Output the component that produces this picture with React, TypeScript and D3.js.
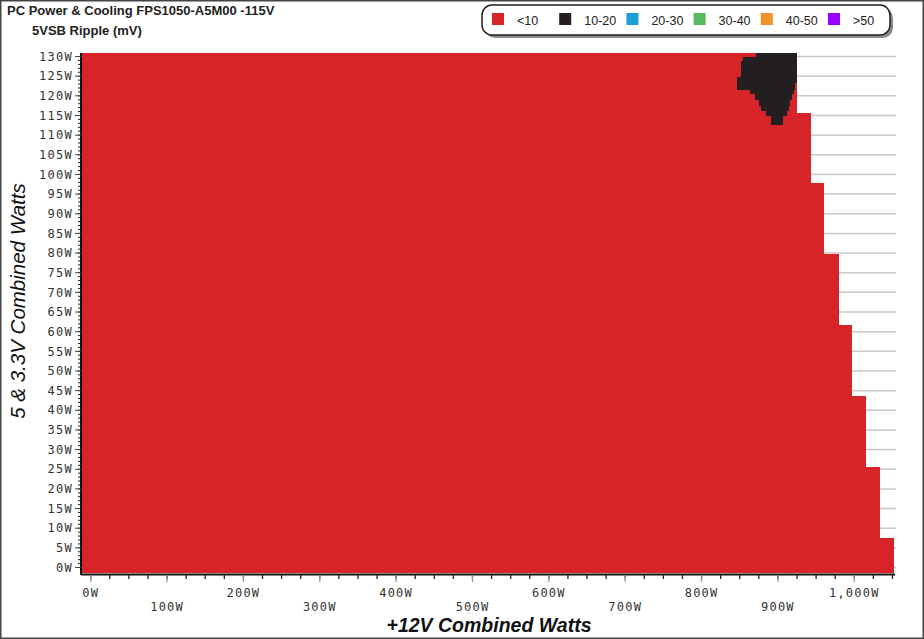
import * as d3 from 'd3';

// legend buckets (mV)
const rippleLabels = ['<10', '10-20', '20-30', '30-40', '40-50', '>50'];
const rippleColors = ['#d62428', '#231f20', '#1ba1d8', '#5cb85c', '#ef922b', '#9b00ff'];

// tested load envelope: 5V/3.3V band (W) and the max +12V load (W) reached in it
const bandLow5V = [-1.4, 7.5, 25.6, 43.7, 61.7, 79.8, 97.9, 115.6];
const bandHigh5V = [7.5, 25.6, 43.7, 61.7, 79.8, 97.9, 115.6, 130.9];
const bandMax12V = [1052, 1033.6, 1015.3, 997, 980.4, 960.4, 943.8, 924.5];

// area where 5VSB ripple was 10-20 mV, read row by row
const blobTop5V = [130.9, 129.9, 128.9, 124.8, 123.3, 121.5, 120.5, 119.0, 117.4, 116.2, 114.9];
const blobBottom5V = [129.9, 128.9, 124.8, 123.3, 121.5, 120.5, 119.0, 117.4, 116.2, 114.9, 112.6];
const blobLeft12V = [871.8, 854.7, 851.5, 847.0, 847.0, 863.9, 870.5, 875.7, 878.3, 884.9, 891.4];
const blobRight12V = [925.4, 925.4, 925.4, 925.4, 922.8, 921.5, 918.9, 916.3, 915.0, 912.4, 907.0];

const xMajorTicks = d3.range(0, 1001, 100);
const xMinorTicks = d3.range(0, 1051, 25);
const yMajorTicks = d3.range(0, 131, 5);
const yMinorTicks = d3.range(0, 131, 1);

const W = 924;
const H = 639;
const left = 82;
const right = 894;
const top = 53;
const bottom = 573;

const tickFont = "'DejaVu Sans Mono', monospace";
const sansFont = "'Liberation Sans', Arial, sans-serif";

export default function App() {
  const x = d3.scaleLinear().domain([-11.4, 1052]).range([left, right]);
  const y = d3.scaleLinear().domain([-1.4, 130.9]).range([bottom, top]);
  const fmt = d3.format(',');

  return (
    <div>
      <style>{`body{margin:0}`}</style>
      <svg width={W} height={H} style={{ display: 'block', background: '#fff' }}>
        <rect x={0.75} y={0.75} width={W - 1.5} height={H - 1.5} fill="#fff" stroke="#444" strokeWidth={1.5} />

        {/* titles */}
        <text x={7} y={15} fontFamily={sansFont} fontWeight="bold" fontSize={13} fill="#222">
          PC Power &amp; Cooling FPS1050-A5M00 -115V
        </text>
        <text x={32} y={35} fontFamily={sansFont} fontWeight="bold" fontSize={13} fill="#222">
          5VSB Ripple (mV)
        </text>

        {/* legend */}
        <rect x={485} y={8} width={408} height={30} rx={10} fill="#8a8a8a" />
        <rect x={482} y={5} width={408} height={30} rx={10} fill="#fff" stroke="#222" strokeWidth={1.5} />
        {rippleLabels.map((lab, i) => (
          <g key={lab} transform={`translate(${492 + i * 67.2},0)`}>
            <rect x={0} y={13} width={12} height={12} fill={rippleColors[i]} />
            <text x={25} y={25} fontFamily={sansFont} fontSize={12.5} fill="#222">{lab}</text>
          </g>
        ))}

        {/* horizontal grid */}
        {yMajorTicks.map(t => (
          <line key={'g' + t} x1={left} x2={right + 2} y1={y(t)} y2={y(t)} stroke="#c8c8c8" strokeWidth={1.5} />
        ))}

        {/* <10 mV area */}
        {bandMax12V.map((m, i) => (
          <rect key={'b' + i} x={x(-11.4)} width={x(m) - x(-11.4)}
            y={y(bandHigh5V[i])} height={y(bandLow5V[i]) - y(bandHigh5V[i])}
            fill={rippleColors[0]} shapeRendering="crispEdges" />
        ))}

        {/* 10-20 mV area */}
        {blobTop5V.map((t, i) => (
          <rect key={'k' + i} x={x(blobLeft12V[i])} width={x(blobRight12V[i]) - x(blobLeft12V[i])}
            y={y(t)} height={y(blobBottom5V[i]) - y(t)}
            fill={rippleColors[1]} shapeRendering="crispEdges" />
        ))}

        {/* y axis */}
        <line x1={81} x2={81} y1={top} y2={bottom + 2} stroke="#111" strokeWidth={2} />
        {yMinorTicks.map(t => (
          <line key={'ym' + t} x1={78} x2={81} y1={y(t)} y2={y(t)} stroke="#222" strokeWidth={1} />
        ))}
        {yMajorTicks.map(t => (
          <g key={'y' + t}>
            <line x1={75} x2={81} y1={y(t)} y2={y(t)} stroke="#444" strokeWidth={1} />
            <text x={73} y={y(t)} dy="0.35em" textAnchor="end" fontFamily={tickFont}
              fontSize={12} letterSpacing={1.3} fill="#333">{t}W</text>
          </g>
        ))}

        {/* x axis */}
        <line x1={left - 1} x2={right + 1} y1={bottom + 1.5} y2={bottom + 1.5} stroke="#111" strokeWidth={2} />
        {xMinorTicks.map(t => (
          <line key={'xm' + t} x1={x(t)} x2={x(t)} y1={bottom + 2} y2={bottom + 6} stroke="#222" strokeWidth={1.3} />
        ))}
        {xMajorTicks.map((t, i) => (
          <g key={'x' + t}>
            <line x1={x(t)} x2={x(t)} y1={bottom + 2} y2={bottom + 9} stroke="#999" strokeWidth={1.3} />
            <text x={x(t)} y={i % 2 === 0 ? 597 : 611} textAnchor="middle" fontFamily={tickFont}
              fontSize={12} letterSpacing={1.2} fill="#333">{fmt(t)}W</text>
          </g>
        ))}

        {/* axis titles */}
        <text x={489} y={632} textAnchor="middle" fontFamily={sansFont} fontWeight="bold"
          fontStyle="italic" fontSize={19.5} fill="#111">+12V Combined Watts</text>
        <text transform="translate(25,301) rotate(-90)" textAnchor="middle" fontFamily={sansFont}
          fontStyle="italic" fontSize={20.5} fill="#111">5 &amp; 3.3V Combined Watts</text>
      </svg>
    </div>
  );
}
